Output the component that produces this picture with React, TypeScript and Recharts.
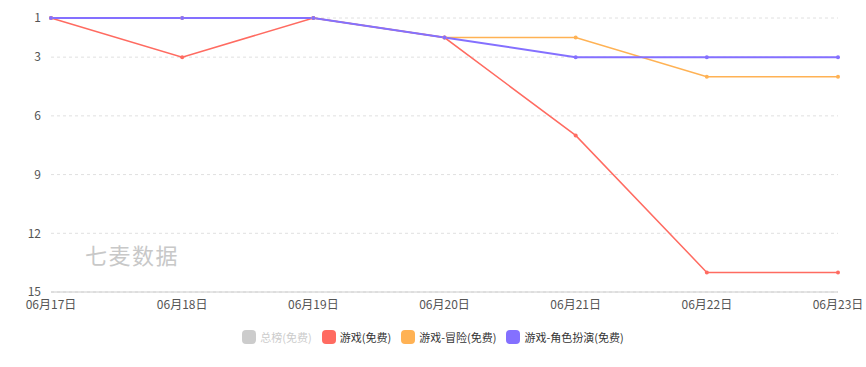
import { LineChart, Line, XAxis, YAxis, CartesianGrid, Legend } from "recharts";

const dates = ["06月17日", "06月18日", "06月19日", "06月20日", "06月21日", "06月22日", "06月23日"];
const gameFree = [1, 3, 1, 2, 7, 14, 14];
const adventureFree = [1, 1, 1, 2, 2, 4, 4];
const rpgFree = [1, 1, 1, 2, 3, 3, 3];
const yTicks = [1, 3, 6, 9, 12, 15];

const legendItems = [
  { name: "总榜(免费)", color: "#cccccc", active: false },
  { name: "游戏(免费)", color: "#ff6b61", active: true },
  { name: "游戏-冒险(免费)", color: "#ffb254", active: true },
  { name: "游戏-角色扮演(免费)", color: "#8470ff", active: true },
];

const data = dates.map((date, i) => ({
  date,
  game: gameFree[i],
  adventure: adventureFree[i],
  rpg: rpgFree[i],
}));

const font = '"Noto Sans CJK SC", "Noto Sans", sans-serif';

const renderLegend = () => (
  <div
    style={{
      display: "flex",
      justifyContent: "center",
      alignItems: "center",
      fontFamily: font,
      fontSize: 11,
    }}>
    {legendItems.map((item) => (
      <div
        key={item.name}
        style={{ display: "flex", alignItems: "center", margin: "0 5px" }}>
        <span
          style={{
            display: "inline-block",
            width: 14,
            height: 14,
            borderRadius: 4,
            background: item.color,
            marginRight: 4,
          }}
        />
        <span style={{ color: item.active ? "#333" : "#ccc" }}>{item.name}</span>
      </div>
    ))}
  </div>
);

export default function App() {
  return (
    <div style={{ position: "absolute", left: 0, top: 0, width: 866, height: 367, background: "#fff" }}>
      <LineChart
        width={866}
        height={367}
        data={data}
        margin={{ top: 18, right: 28, left: 0, bottom: 22 }}>
        <CartesianGrid vertical={false} stroke="#e0e0e0" strokeDasharray="3 3" />
        <XAxis
          dataKey="date"
          tickLine={false}
          tickSize={6}
          axisLine={{ stroke: "#cccccc" }}
          tick={{ fill: "#555", fontSize: 12, fontFamily: font }}
          interval={0}
          height={37}
        />
        <YAxis
          reversed
          domain={[1, 15]}
          ticks={yTicks}
          width={51}
          tickLine={false}
          axisLine={false}
          tickSize={8}
          tick={{ fill: "#555", fontSize: 12, fontFamily: font }}
        />
        <Legend
          verticalAlign="bottom"
          content={renderLegend}
          wrapperStyle={{ left: 0, width: 866 }}
        />
        <Line
          dataKey="game"
          stroke="#ff6b61"
          strokeWidth={1.5}
          dot={{ r: 2, fill: "#ff6b61", strokeWidth: 0 }}
          isAnimationActive={false}
        />
        <Line
          dataKey="adventure"
          stroke="#ffb254"
          strokeWidth={1.5}
          dot={{ r: 2, fill: "#ffb254", strokeWidth: 0 }}
          isAnimationActive={false}
        />
        <Line
          dataKey="rpg"
          stroke="#8470ff"
          strokeWidth={2}
          dot={{ r: 2, fill: "#8470ff", strokeWidth: 0 }}
          isAnimationActive={false}
        />
      </LineChart>
      <div
        style={{
          position: "absolute",
          left: 85,
          top: 238,
          fontFamily: font,
          fontSize: 22,
          letterSpacing: 1.5,
          color: "#c8c8c8",
          pointerEvents: "none",
        }}>
        七麦数据
      </div>
    </div>
  );
}
